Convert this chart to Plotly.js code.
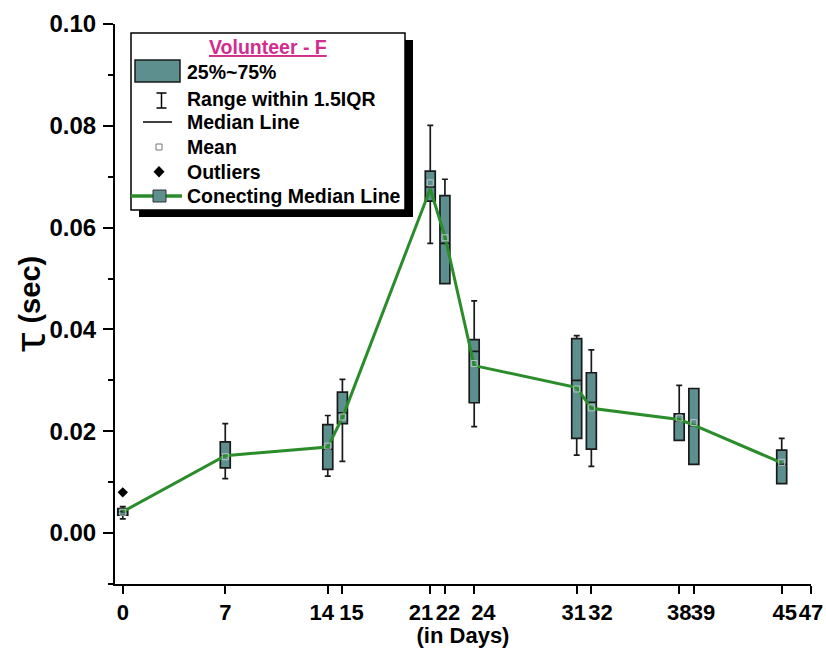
<!DOCTYPE html>
<html>
<head>
<meta charset="utf-8">
<script src="https://cdn.plot.ly/plotly-3.0.1.min.js"></script>
<style>html,body{margin:0;padding:0;background:#fff;}#chart{width:826px;height:648px;}</style>
</head>
<body>
<div id="chart"></div>
<script>
// ---- data ----
const days = [0, 7, 14, 15, 21, 22, 24, 31, 32, 38, 39, 45];
const q1 = [0.0035, 0.0128, 0.0125, 0.0215, 0.0652, 0.0490, 0.0256, 0.0186, 0.0165, 0.0182, 0.0135, 0.0097];
const q3 = [0.0048, 0.0179, 0.0213, 0.0277, 0.0711, 0.0663, 0.0380, 0.0382, 0.0315, 0.0234, 0.0284, 0.0163];
const medians = [0.0042, 0.0152, 0.0165, 0.0236, 0.0680, 0.0569, 0.0357, 0.0300, 0.0257, 0.0220, 0.0211, 0.0135];
const lowerWhisker = [0.0028, 0.0107, 0.0112, 0.0141, 0.0569, 0.0490, 0.0209, 0.0153, 0.0131, 0.0182, 0.0135, 0.0097];
const upperWhisker = [0.0052, 0.0215, 0.0231, 0.0302, 0.0801, 0.0695, 0.0456, 0.0388, 0.0360, 0.0290, 0.0284, 0.0186];
const means = [0.0041, 0.0150, 0.0171, 0.0228, 0.0688, 0.0580, 0.0333, 0.0283, 0.0246, 0.0226, 0.0217, 0.0139];
const connectLine = [0.0042, 0.0152, 0.0169, 0.0227, 0.0676, 0.0583, 0.0329, 0.0286, 0.0245, 0.0223, 0.0212, 0.0138];
const outlierDays = [0];
const outlierVals = [0.0080];
const xTickVals = [0, 7, 14, 15, 21, 22, 24, 31, 32, 38, 39, 45, 47];
const NB = '\u00a0';
const xTickLabels = ['0', '7', '14' + NB + NB, NB + NB + NB + '15', '21' + NB + NB + NB, NB + '22', NB + NB + NB + '24',
                     '31' + NB, NB + NB + NB + '32', '38', NB + NB + NB + '39', NB + '45', '47'];
const yTickVals = [0, 0.02, 0.04, 0.06, 0.08, 0.10];
const yTickLabels = ['0.00', '0.02', '0.04', '0.06', '0.08', '0.10'];
const legendTitle = 'Volunteer - F';
const legendLabels = ['25%~75%', 'Range within 1.5IQR', 'Median Line', 'Mean', 'Outliers', 'Conecting Median Line'];

// ---- styling ----
const FONT = 'Liberation Sans, Arial, Helvetica, sans-serif';
const TEAL = '#5e8f8f';
const GREEN = '#2a8c2a';
const W = 826, H = 648, ML = 115, MR = 15, MT = 24, MB = 64;
const px = v => (v - ML) / (W - ML - MR);
const py = v => (H - MB - v) / (H - MT - MB);
const bold = s => '<b>' + s + '</b>';

const traces = [
  {
    type: 'box', x: days, q1: q1, median: medians, q3: q3,
    lowerfence: lowerWhisker, upperfence: upperWhisker,
    width: 0.68, whiskerwidth: 0.6, boxpoints: false,
    fillcolor: TEAL, line: {color: '#1a1a1a', width: 1.7},
    showlegend: false, hoverinfo: 'skip'
  },
  {
    type: 'scatter', mode: 'lines', x: days, y: connectLine,
    line: {color: GREEN, width: 3}, showlegend: false, hoverinfo: 'skip'
  },
  {
    type: 'scatter', mode: 'markers', x: days, y: means,
    marker: {symbol: 'square-open', size: 6, color: '#b8c8c8', line: {width: 1}},
    showlegend: false, hoverinfo: 'skip'
  },
  {
    type: 'scatter', mode: 'markers', x: outlierDays, y: outlierVals,
    marker: {symbol: 'diamond', size: 8, color: '#000'},
    showlegend: false, hoverinfo: 'skip'
  }
];

const shapes = [
  {type: 'rect', xref: 'paper', yref: 'paper', x0: px(139), x1: px(413), y0: py(40), y1: py(217), fillcolor: '#000', line: {width: 0}},
  {type: 'rect', xref: 'paper', yref: 'paper', x0: px(131), x1: px(405), y0: py(33), y1: py(210), fillcolor: '#fff', line: {color: '#000', width: 1.5}},
  {type: 'rect', xref: 'paper', yref: 'paper', x0: px(135), x1: px(180), y0: py(60), y1: py(82), fillcolor: TEAL, line: {color: '#1a1a1a', width: 1.5}},
  {type: 'line', xref: 'paper', yref: 'paper', x0: px(161.5), x1: px(161.5), y0: py(93), y1: py(108), line: {color: '#000', width: 1.5}},
  {type: 'line', xref: 'paper', yref: 'paper', x0: px(156.5), x1: px(166.5), y0: py(93), y1: py(93), line: {color: '#000', width: 1.5}},
  {type: 'line', xref: 'paper', yref: 'paper', x0: px(156.5), x1: px(166.5), y0: py(108), y1: py(108), line: {color: '#000', width: 1.5}},
  {type: 'line', xref: 'paper', yref: 'paper', x0: px(143), x1: px(172), y0: py(122), y1: py(122), line: {color: '#000', width: 1.5}},
  {type: 'rect', xref: 'paper', yref: 'paper', x0: px(156), x1: px(162), y0: py(144), y1: py(150), fillcolor: '#fff', line: {color: '#777', width: 1}},
  {type: 'path', xref: 'paper', yref: 'paper',
   path: 'M' + px(159) + ',' + py(166) + ' L' + px(164.5) + ',' + py(171.7) + ' L' + px(159) + ',' + py(177.4) + ' L' + px(153.5) + ',' + py(171.7) + ' Z',
   fillcolor: '#000', line: {width: 0}},
  {type: 'line', xref: 'paper', yref: 'paper', x0: px(131), x1: px(182), y0: py(196), y1: py(196), line: {color: GREEN, width: 3.5}},
  {type: 'rect', xref: 'paper', yref: 'paper', x0: px(153), x1: px(166), y0: py(190), y1: py(202), fillcolor: TEAL, line: {color: '#333', width: 1}}
];

const rowY = [71.7, 99.5, 122, 146.7, 171.7, 196];
const annotations = [{
  xref: 'paper', yref: 'paper', x: px(268), y: py(47), xanchor: 'center', yanchor: 'middle', showarrow: false,
  text: '<b><u>' + legendTitle + '</u></b>', font: {family: FONT, size: 19.5, color: '#d02e8e'}
}];
legendLabels.forEach((t, i) => annotations.push({
  xref: 'paper', yref: 'paper', x: px(185), y: py(rowY[i]), xanchor: 'left', yanchor: 'middle', showarrow: false,
  text: bold(t), font: {family: FONT, size: 19.5, color: '#000'}
}));

const layout = {
  width: W, height: H,
  margin: {l: ML, r: MR, t: MT, b: MB},
  paper_bgcolor: '#fff', plot_bgcolor: '#fff',
  showlegend: false,
  xaxis: {
    range: [-0.53, 47], tickmode: 'array', tickvals: xTickVals, ticktext: xTickLabels.map(bold), tickangle: 0,
    ticks: 'outside', ticklen: 8, tickwidth: 2, tickcolor: '#000',
    showline: true, linewidth: 2, linecolor: '#000', showgrid: false, zeroline: false, automargin: false,
    tickfont: {family: FONT, size: 22, color: '#000'},
    title: {text: '<b>(in Days)</b>', font: {family: FONT, size: 22, color: '#000'}, standoff: 0}
  },
  yaxis: {
    range: [-0.01, 0.10], tickmode: 'array', tickvals: yTickVals, ticktext: yTickLabels.map(bold),
    ticks: 'outside', ticklen: 10, tickwidth: 2, tickcolor: '#000', ticklabelstandoff: 2,
    minor: {tick0: 0, dtick: 0.01, ticks: 'outside', ticklen: 5, tickwidth: 2, tickcolor: '#000'},
    showline: true, linewidth: 2, linecolor: '#000', showgrid: false, zeroline: false, automargin: false,
    tickfont: {family: FONT, size: 24, color: '#000'},
    title: {text: '<span style="font-family:Noto Sans;font-size:42px;baseline-shift:-5px">τ</span>' + NB + '<b>(sec)</b>', font: {family: FONT, size: 29, color: '#000'}, standoff: 2}
  },
  shapes: shapes,
  annotations: annotations
};

Plotly.newPlot('chart', traces, layout, {staticPlot: true, displayModeBar: false});
</script>
</body>
</html>
